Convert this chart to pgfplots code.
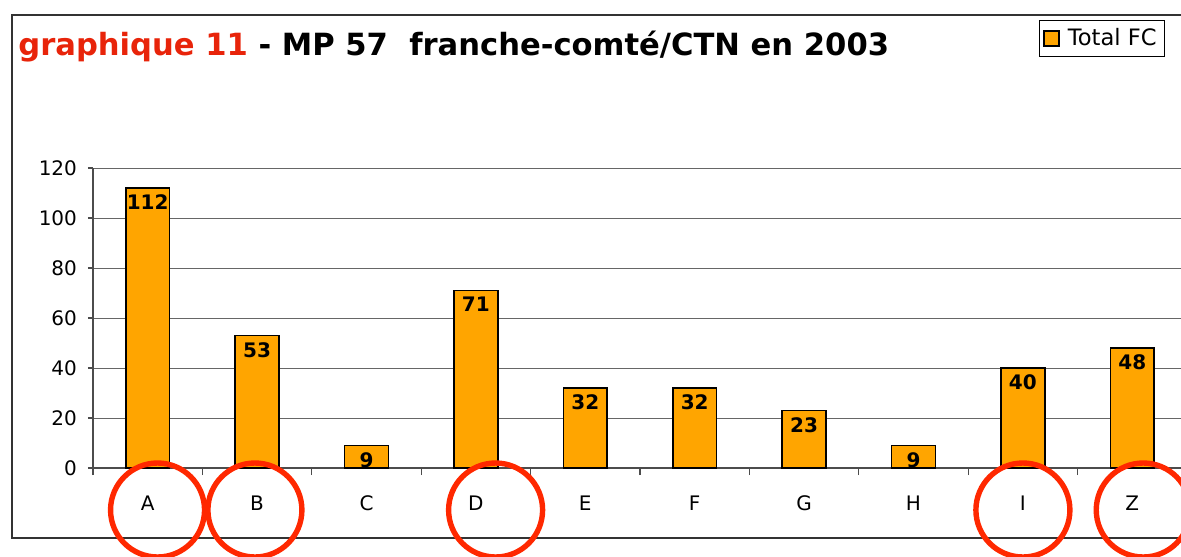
\documentclass[border=0pt]{standalone}
\usepackage{pgfplots}
\pgfplotsset{compat=1.18}
\usepackage{fontspec}
\setmainfont{DejaVu Sans}
\definecolor{barorange}{RGB}{255,165,0}
\definecolor{titlered}{RGB}{232,36,10}
\definecolor{circred}{RGB}{255,40,0}
\begin{document}
\begin{tikzpicture}
\useasboundingbox (0,0) rectangle (590.5pt,-278pt);
\draw[black!80, line width=1pt] (610pt,-7.5pt) -- (6pt,-7.5pt) -- (6pt,-269pt) -- (610pt,-269pt);
\node[anchor=base west, inner sep=0pt, font=\fontsize{15.3pt}{18pt}\selectfont\bfseries] at (9pt,-28pt) {\textcolor{titlered}{graphique 11} - MP 57\ \ franche-comté/CTN en 2003};
\begin{axis}[
  at={(46.5pt,-234pt)}, anchor=south west,
  scale only axis, width=547pt, height=150pt,
  xmin=-0.5, xmax=9.5, ymin=0, ymax=120,
  ytick={0,20,...,120},
  xtick={0,...,9}, xticklabels={A,B,C,D,E,F,G,H,I,Z},
  minor xtick={-0.5,0.5,...,9.5},
  major x tick style={draw=none},
  tick align=outside,
  major tick length=2.5pt, minor tick length=3.5pt,
  axis x line*=bottom, axis y line*=left,
  axis line style={-, black!70, line width=0.6pt},
  tick style={black!70, line width=0.6pt},
  ymajorgrids, grid style={black!60, line width=0.5pt},
  clip=false,
  /pgf/number format/assume math mode=true,
  ticklabel style={font=\fontsize{10pt}{12pt}\selectfont},
  xticklabel style={yshift=-8pt},
  yticklabel style={xshift=-2pt},
  legend style={at={(0.98,1.493)}, anchor=north east, draw=black, line width=0.5pt,
    font=\fontsize{11.3pt}{13pt}\selectfont, inner sep=2pt, row sep=0pt},
  legend image code/.code={\draw[#1, line width=0.9pt] (1pt,-3.8pt) rectangle (8.6pt,3.8pt); \path (10.5pt,0pt);},
]
\addplot[ybar, bar width=0.4, fill=barorange, draw=black, line width=0.8pt,
  nodes near coords,
  every node near coord/.append style={font=\fontsize{10pt}{12pt}\selectfont\bfseries, anchor=north, inner sep=1pt, yshift=-2pt, text=black}]
  coordinates {(0,112) (1,53) (2,9) (3,71) (4,32) (5,32) (6,23) (7,9) (8,40) (9,48)};
\addlegendentry{Total FC}
\addplot[forget plot, only marks, mark=o, mark size=23.5pt, draw=circred, mark options={line width=2.7pt, draw=circred}]
  coordinates {(0.09,-16.8) (0.98,-16.8) (3.18,-16.8) (8.0,-16.8) (9.1,-16.8)};
\end{axis}
\end{tikzpicture}
\end{document}
